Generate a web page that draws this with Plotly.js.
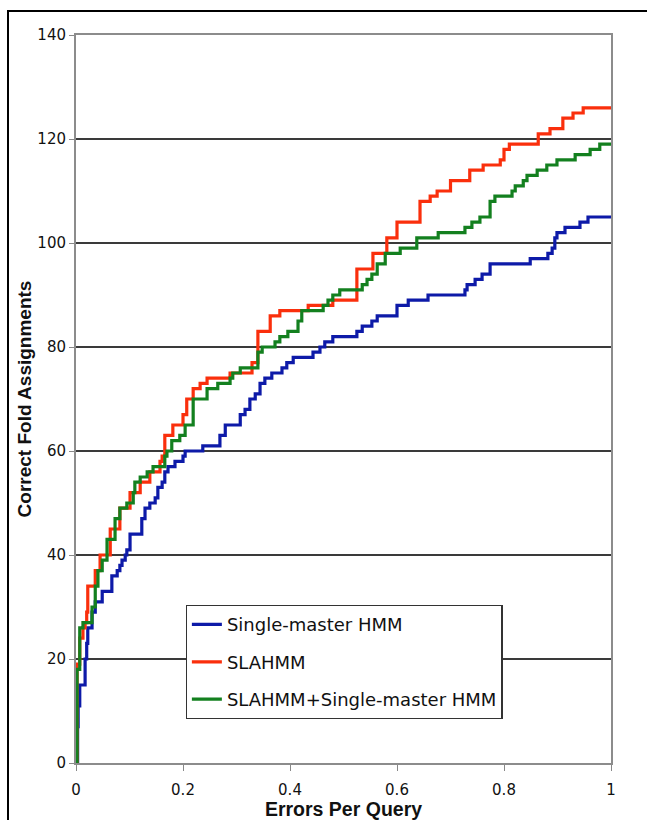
<!DOCTYPE html>
<html>
<head>
<meta charset="utf-8">
<script src="https://cdn.plot.ly/plotly-3.0.1.min.js"></script>
<style>
  html, body { margin: 0; padding: 0; background: #ffffff; }
  #wrap { position: relative; width: 647px; height: 820px; overflow: hidden; }
  #frame { position: absolute; left: 7px; top: 10px; width: 700px; height: 900px;
           border-left: 2px solid #000; border-top: 2px solid #000; box-sizing: border-box; }
  #chart { position: absolute; left: 0; top: 0; width: 647px; height: 820px; }
</style>
</head>
<body>
<div id="wrap">
  <div id="frame"></div>
  <div id="chart"></div>
</div>
<script>
// Series names
const seriesNames = ["Single-master HMM", "SLAHMM", "SLAHMM+Single-master HMM"];

// Single-master HMM (blue)
const singleX = [0, 0.003, 0.004, 0.007, 0.017, 0.02, 0.022, 0.03, 0.036, 0.049, 0.067, 0.077, 0.082, 0.086, 0.092, 0.095, 0.101, 0.123, 0.129, 0.138, 0.148, 0.153, 0.161, 0.166, 0.172, 0.185, 0.2, 0.204, 0.237, 0.269, 0.279, 0.307, 0.316, 0.325, 0.335, 0.344, 0.353, 0.366, 0.385, 0.394, 0.406, 0.443, 0.456, 0.465, 0.48, 0.525, 0.535, 0.553, 0.563, 0.6, 0.621, 0.658, 0.727, 0.731, 0.746, 0.759, 0.774, 0.849, 0.882, 0.89, 0.895, 0.899, 0.914, 0.942, 0.957, 1.0];
const singleY = [0, 7, 11, 15, 20, 23, 26, 29, 31, 33, 36, 37, 38, 39, 40, 41, 44, 47, 49, 50, 51, 53, 54, 56, 57, 58, 59, 60, 61, 63, 65, 67, 68, 70, 71, 73, 74, 75, 76, 77, 78, 79, 80, 81, 82, 83, 84, 85, 86, 88, 89, 90, 91, 92, 93, 94, 96, 97, 98, 99, 101, 102, 103, 104, 105, 105];

// SLAHMM (red)
const slaX = [0, 0.002, 0.007, 0.013, 0.017, 0.02, 0.022, 0.036, 0.045, 0.064, 0.082, 0.101, 0.12, 0.138, 0.157, 0.161, 0.166, 0.181, 0.2, 0.207, 0.219, 0.232, 0.245, 0.288, 0.329, 0.34, 0.363, 0.381, 0.434, 0.48, 0.525, 0.555, 0.581, 0.6, 0.643, 0.662, 0.675, 0.7, 0.736, 0.761, 0.793, 0.8, 0.81, 0.864, 0.886, 0.91, 0.929, 0.948, 1.0];
const slaY = [0, 19, 24, 26, 27, 29, 34, 37, 40, 45, 49, 52, 54, 56, 58, 59, 63, 65, 67, 70, 72, 73, 74, 75, 77, 83, 86, 87, 88, 89, 95, 98, 101, 104, 108, 109, 110, 112, 114, 115, 116, 118, 119, 121, 122, 124, 125, 126, 126];

// SLAHMM+Single-master HMM (green)
const comboX = [0, 0.002, 0.007, 0.013, 0.03, 0.036, 0.041, 0.049, 0.058, 0.073, 0.082, 0.095, 0.107, 0.11, 0.12, 0.133, 0.144, 0.166, 0.17, 0.179, 0.194, 0.204, 0.219, 0.245, 0.265, 0.288, 0.293, 0.307, 0.34, 0.348, 0.372, 0.381, 0.396, 0.415, 0.422, 0.462, 0.471, 0.48, 0.493, 0.535, 0.544, 0.553, 0.563, 0.578, 0.606, 0.637, 0.677, 0.727, 0.74, 0.755, 0.774, 0.783, 0.815, 0.821, 0.836, 0.843, 0.862, 0.88, 0.899, 0.933, 0.961, 0.979, 1.0];
const comboY = [0, 18, 26, 27, 30, 34, 37, 39, 43, 47, 49, 50, 52, 54, 55, 56, 57, 59, 60, 62, 63, 65, 70, 72, 73, 74, 75, 76, 79, 80, 81, 82, 83, 85, 87, 88, 89, 90, 91, 92, 93, 94, 96, 98, 99, 101, 102, 103, 104, 105, 108, 109, 110, 111, 112, 113, 114, 115, 116, 117, 118, 119, 119];

// Tick labels
const xTickVals = [0, 0.2, 0.4, 0.6, 0.8, 1];
const xTickText = ["0", "0.2", "0.4", "0.6", "0.8", "1"];
const yTickVals = [0, 20, 40, 60, 80, 100, 120, 140];
const yTickText = ["0", "20", "40", "60", "80", "100", "120", "140"];

const colors = ["#0d1aa8", "#fa2f0c", "#13801f"];
const xs = [singleX, slaX, comboX];
const ys = [singleY, slaY, comboY];

const traces = seriesNames.map((name, i) => ({
  type: "scatter",
  mode: "lines",
  name: name,
  x: xs[i],
  y: ys[i],
  line: { shape: "hv", color: colors[i], width: 3.2 },
  legendgroup: "g" + i,
  hoverinfo: "skip"
}));

const layout = {
  width: 647,
  height: 820,
  margin: { l: 76, r: 36, t: 35, b: 57, autoexpand: false },
  paper_bgcolor: "rgba(0,0,0,0)",
  plot_bgcolor: "#ffffff",
  showlegend: true,
  legend: {
    x: 0.205, y: 0.217, xanchor: "left", yanchor: "top",
    bgcolor: "#ffffff",
    bordercolor: "#333333",
    borderwidth: 1.2,
    font: { family: "DejaVu Sans, Verdana, sans-serif", size: 18, color: "#111111" },
    tracegroupgap: 11,
    traceorder: "grouped"
  },
  xaxis: {
    range: [0, 1],
    tickvals: xTickVals,
    ticktext: xTickText,
    ticks: "outside",
    ticklen: 6,
    tickcolor: "#888888",
    ticklabelstandoff: 6,
    showgrid: false,
    zeroline: false,
    showline: true,
    linecolor: "#8c8c8c",
    linewidth: 2,
    mirror: true,
    tickfont: { family: "DejaVu Sans, Verdana, sans-serif", size: 15, color: "#111111" },
    title: { text: "Errors Per Query", font: { family: "Liberation Sans, Arial, sans-serif", size: 19.5, color: "#111111", weight: "bold" }, standoff: 1 },
    automargin: false
  },
  yaxis: {
    range: [0, 140],
    tickvals: yTickVals,
    ticktext: yTickText,
    ticks: "outside",
    ticklen: 5,
    tickcolor: "#888888",
    showgrid: true,
    gridcolor: "#3a3a3a",
    gridwidth: 1.3,
    zeroline: false,
    showline: true,
    linecolor: "#8c8c8c",
    linewidth: 2,
    mirror: true,
    tickfont: { family: "DejaVu Sans, Verdana, sans-serif", size: 15, color: "#111111" },
    title: { text: "Correct Fold Assignments", font: { family: "Liberation Sans, Arial, sans-serif", size: 19, color: "#111111", weight: "bold" }, standoff: 1 },
    automargin: false
  }
};

Plotly.newPlot("chart", traces, layout, { displayModeBar: false, staticPlot: true });
</script>
</body>
</html>
